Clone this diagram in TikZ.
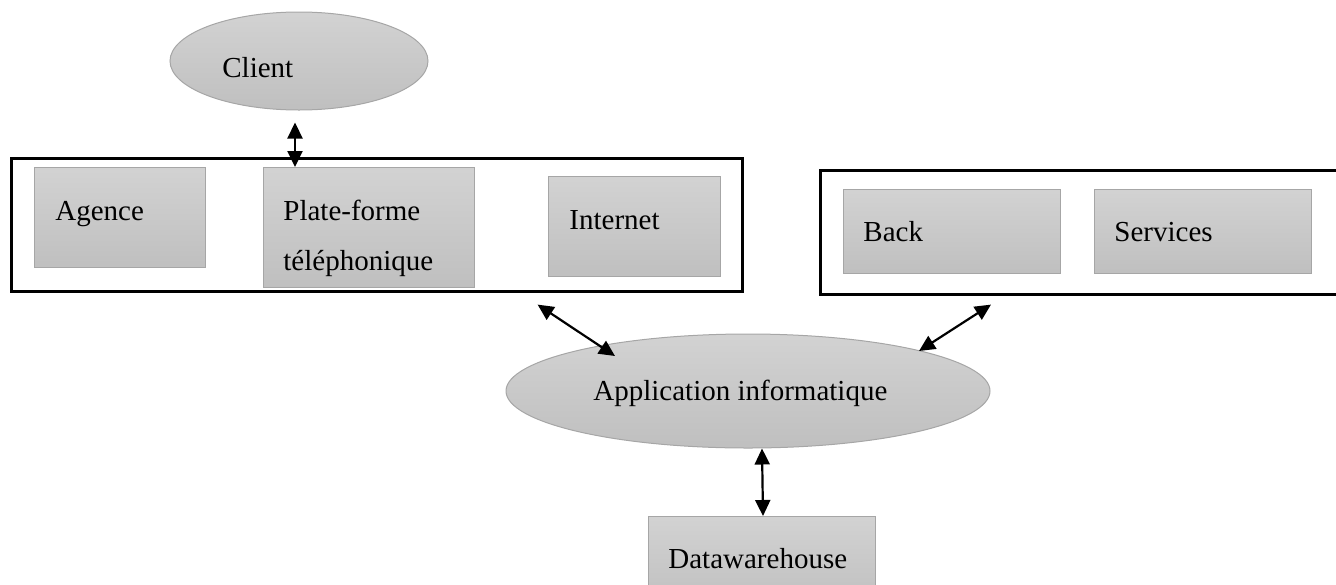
\documentclass[tikz,border=0pt]{standalone}
\usepackage{fontspec}
\setmainfont{Liberation Serif}
\usetikzlibrary{arrows.meta,shapes.geometric}
\begin{document}
\begin{tikzpicture}[x=0.5pt,y=-0.5pt,
  gbox/.style={draw=gray!70,line width=0.5pt,top color=gray!35,bottom color=gray!50,inner sep=0pt,anchor=north west},
  gell/.style={ellipse,draw=gray!70,line width=0.5pt,top color=gray!35,bottom color=gray!50,inner sep=0pt},
  frame/.style={draw=black,line width=1.3pt,inner sep=0pt,anchor=north west},
  lbl/.style={anchor=base west,inner sep=0pt,font=\fontsize{14.5}{25}\selectfont,align=left},
  biarrow/.style={line width=1.1pt,{Triangle[length=8pt,width=7.5pt]}-{Triangle[length=8pt,width=7.5pt]}}]
\useasboundingbox (0,0) rectangle (1336,584);
\clip (0,0) rectangle (1336,584);
% frames
\node[frame,minimum width=365.5pt,minimum height=66.5pt] (lframe) at (10,157) {};
\node[frame,minimum width=260pt,minimum height=62pt] (rframe) at (819,169) {};
% boxes
\node[gbox,minimum width=85.5pt,minimum height=50pt] (agence) at (34,167) {};
\node[gbox,minimum width=105.5pt,minimum height=60pt] (plate) at (263,167) {};
\node[gbox,minimum width=86pt,minimum height=50pt] (internet) at (548,176) {};
\node[gbox,minimum width=108.5pt,minimum height=42pt] (back) at (843,189) {};
\node[gbox,minimum width=108.5pt,minimum height=42pt] (services) at (1094,189) {};
\node[gbox,minimum width=113.5pt,minimum height=45pt] (dw) at (648,516) {};
% ellipses
\node[gell,minimum width=129pt,minimum height=49pt] (client) at (299,61) {};
\node[gell,minimum width=242pt,minimum height=57pt] (appli) at (748,391) {};
% labels
\node[lbl] (tclient) at (222,77) {Client};
\node[lbl] (tagence) at (55,220) {Agence};
\node[lbl] (tplate) at (283,270) {Plate-forme\\téléphonique};
\node[lbl] (tinternet) at (569,229) {Internet};
\node[lbl] (tback) at (863,241) {Back};
\node[lbl] (tservices) at (1114,241) {Services};
\node[lbl] (tappli) at (593,400) {Application informatique};
\node[lbl] (tdw) at (668,568) {Datawarehouse};
% connectors
\draw[biarrow] ([xshift=-2pt,yshift=-6pt]client.south) -- ([xshift=16pt]plate.north west);
\draw[biarrow] ([xshift=-103pt,yshift=-6pt]lframe.south east) -- ([xshift=-66.5pt,yshift=17.5pt]appli.center);
\draw[biarrow] ([xshift=86pt,yshift=-4.5pt]rframe.south west) -- ([xshift=85.5pt,yshift=20pt]appli.center);
\draw[biarrow] ([xshift=7pt]appli.south) -- ([xshift=0.5pt]dw.north);
\end{tikzpicture}
\end{document}
